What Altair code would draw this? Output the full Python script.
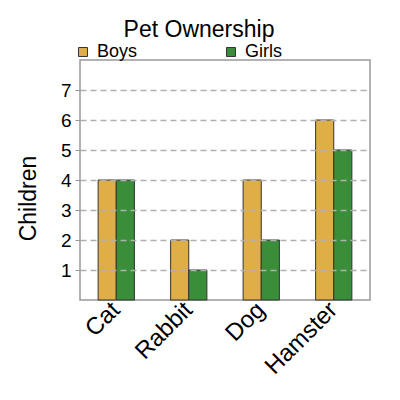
import altair as alt
import pandas as pd

pets = ["Cat", "Rabbit", "Dog", "Hamster"]
boys = [4, 2, 4, 6]
girls = [4, 1, 2, 5]
groups = ["Boys", "Girls"]
colors = ["#DFAE46", "#3A8E3A"]

rows = []
for p, b, g in zip(pets, boys, girls):
    rows.append({"pet": p, "group": "Boys", "children": b})
    rows.append({"pet": p, "group": "Girls", "children": g})
df = pd.DataFrame(rows)

FONT = "Liberation Sans"

chart = alt.Chart(df).mark_bar(stroke="#333333", strokeWidth=1).encode(
    x=alt.X("pet:N", sort=pets, title=None,
            scale=alt.Scale(paddingInner=0.5, paddingOuter=0.25),
            axis=alt.Axis(labelAngle=315, labelAlign="right", labelBaseline="middle",
                          labelFontSize=24, labelFont=FONT, labelColor="black",
                          ticks=False, domain=False, labelPadding=6, grid=False)),
    xOffset=alt.XOffset("group:N", sort=groups, scale=alt.Scale(paddingInner=0, paddingOuter=0)),
    y=alt.Y("children:Q", title="Children",
            scale=alt.Scale(domain=[0, 8], nice=False),
            axis=alt.Axis(values=[1, 2, 3, 4, 5, 6, 7], labelFontSize=19, labelFont=FONT,
                          labelColor="black", tickColor="#999999", tickSize=5, labelPadding=4,
                          domain=False, grid=True, gridColor="#b0b0b0", gridDash=[6, 4],
                          gridWidth=1.3, zindex=1,
                          titleFontSize=23, titleFont=FONT, titleFontWeight="normal",
                          titleColor="black", titleAngle=270, titleX=-45, titleY=138,
                          titleAlign="center", titleBaseline="alphabetic")),
    color=alt.Color("group:N", sort=groups, title=None,
                    scale=alt.Scale(domain=groups, range=colors),
                    legend=alt.Legend(orient="none", legendX=-6, legendY=-17, direction="horizontal",
                                      symbolType="square", symbolSize=80, symbolStrokeColor="#333333",
                                      symbolStrokeWidth=1, labelFontSize=18, labelFont=FONT,
                                      labelColor="black", labelOffset=5, columnPadding=84)),
).properties(
    width=290,
    height=240,
    title=alt.TitleParams("Pet Ownership", fontSize=23, font=FONT, fontWeight="normal",
                          color="black", anchor="middle", dx=-26, offset=1),
    padding={"left": 72, "top": 52, "right": 22, "bottom": 92},
    autosize=alt.AutoSizeParams(type="none"),
).configure_view(stroke="#999999", strokeWidth=1.5)

chart.save("out.html", embed_options={"renderer": "svg", "actions": False})
